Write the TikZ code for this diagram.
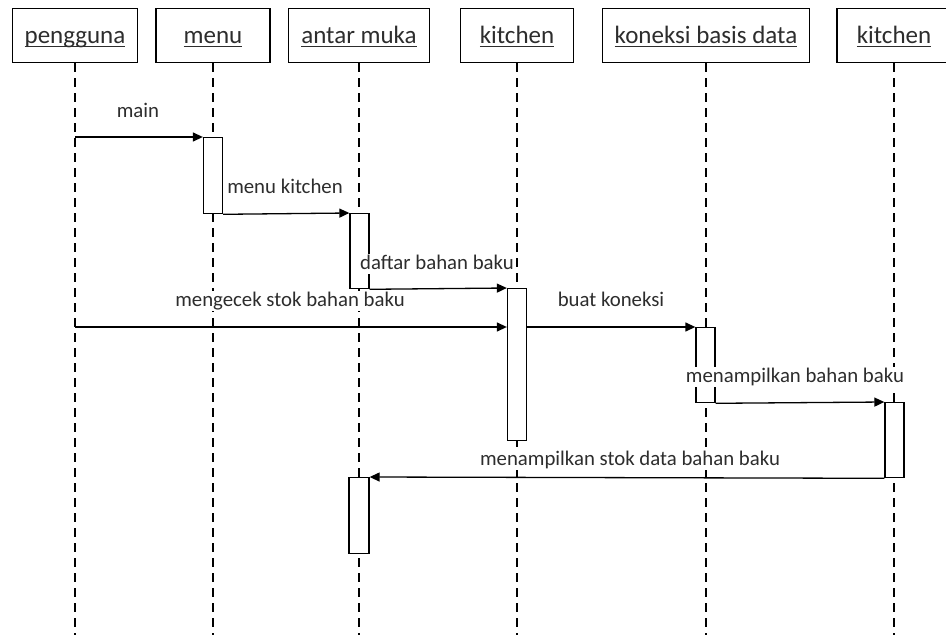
\documentclass[tikz,border=0pt]{standalone}
\usepackage{fontspec}
\setmainfont{Carlito}
\usetikzlibrary{arrows.meta}
\definecolor{txt}{RGB}{45,45,45}
\newcommand\hdrul[1]{\setbox0\hbox{#1}\rlap{\color{txt}\rule[-3.5pt]{\wd0}{1.1pt}}\box0}
\tikzset{
  hdr/.style={draw, line width=1.3pt, minimum height=54pt, inner sep=0pt, anchor=north,
    font=\fontsize{25}{30}\selectfont, text=txt, text height=24pt, text depth=8pt},
  life/.style={line width=1.2pt, dash pattern=on 9pt off 6pt},
  act/.style={draw, fill=white, line width=1.3pt, minimum width=19pt, inner sep=0pt, anchor=north},
  msg/.style={line width=1.3pt, -{Triangle[length=10pt,width=9pt]}},
  lbl/.style={font=\fontsize{20.8}{24}\selectfont, text=txt, fill=white, inner xsep=1pt,
    inner ysep=0pt, text height=15pt, text depth=5pt}
}
\begin{document}
\begin{tikzpicture}[x=1pt,y=-1pt]
\useasboundingbox (0,0) rectangle (946,635);
\clip (0,0) rectangle (946,635);
% headers
\node[hdr, minimum width=125pt] (h1) at (75,8) {\hdrul{pengguna}};
\node[hdr, minimum width=114pt] (h2) at (213,8) {\hdrul{menu}};
\node[hdr, minimum width=141pt] (h3) at (359,8) {\hdrul{antar muka}};
\node[hdr, minimum width=113pt] (h4) at (517,8) {\hdrul{kitchen}};
\node[hdr, minimum width=207pt] (h5) at (706,8) {\hdrul{koneksi basis data}};
\node[hdr, minimum width=120pt, xshift=3pt] (h6) at (894,8) {\hspace*{-6pt}\hdrul{kitchen}};
% lifeline ends
\coordinate (e1) at (75,640);
\coordinate (e2) at (213,640);
\coordinate (e3) at (359,640);
\coordinate (e4) at (517,640);
\coordinate (e5) at (706,640);
\coordinate (e6) at (894,640);
\draw[life] (h1.south) -- (e1);
\draw[life] (h2.south) -- (e2);
\draw[life] (h3.south) -- (e3);
\draw[life] (h4.south) -- (e4);
\draw[life] (h5.south) -- (e5);
\draw[life] (h6.south -| e6) -- (e6);
% activations
\node[act, minimum height=76pt] (a1) at (213,137) {};
\node[act, minimum height=75pt] (a2) at (359.5,213) {};
\node[act, minimum height=152pt] (a3) at (517,288) {};
\node[act, minimum height=75pt] (a4) at (705.5,327) {};
\node[act, minimum height=75pt] (a5) at (894.5,402) {};
\node[act, minimum height=76pt, minimum width=20pt] (a6) at (359,477) {};
% messages
\draw[msg] (a1.north west -| h1.south) -- (a1.north west);
\draw[msg] (a1.south east) -- (a2.north west);
\draw[msg] (a2.south east) -- (a3.north west);
\draw[msg] (a4.north -| h1.south) -- (a4.north -| a3.west);
\draw[msg] (a4.north -| a3.east) -- (a4.north west);
\draw[msg] (a4.south east) -- (a5.north west);
\draw[msg] (a5.south west) -- (a6.north east);
% labels
\node[lbl] (t1) at (138,112) {main};
\node[lbl] (t2) at (285,188) {menu kitchen};
\node[lbl] (t3) at (437,264) {daftar bahan baku};
\node[lbl] (t4) at (290,301) {mengecek stok bahan baku};
\node[lbl] (t5) at (611,301) {buat koneksi};
\node[lbl] (t6) at (795,377) {menampilkan bahan baku};
\node[lbl] (t7) at (630,460) {menampilkan stok data bahan baku};
\end{tikzpicture}
\end{document}
